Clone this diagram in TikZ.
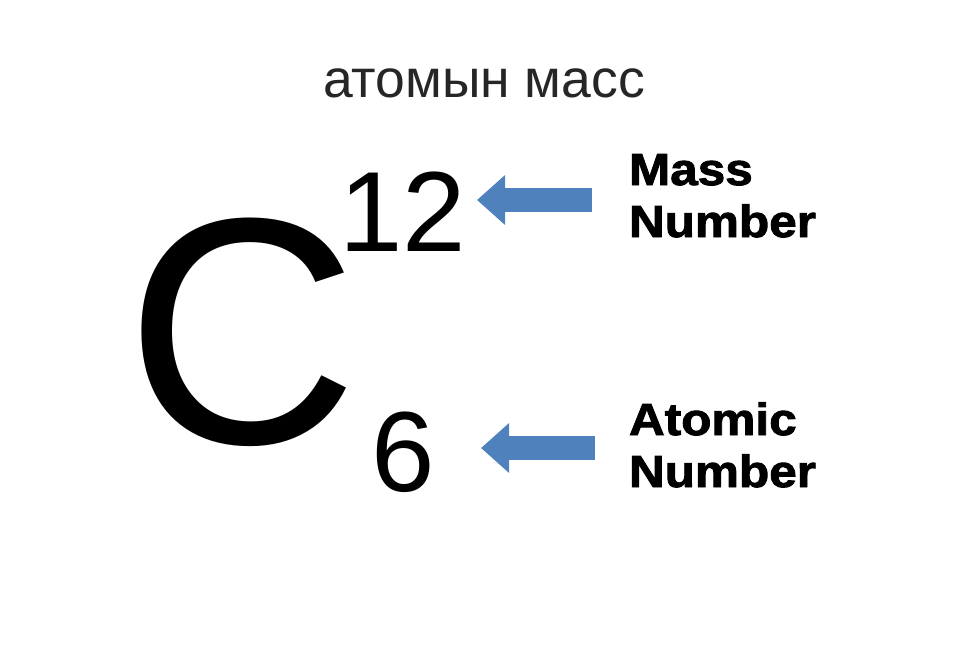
\documentclass[tikz,border=0pt]{standalone}
\usepackage{fontspec}
\usepackage{xcolor}
\usepackage{tikz}
\usetikzlibrary{arrows.meta,positioning}
\setmainfont{Liberation Sans}
\newfontfamily\labelfont[FakeStretch=1.1,FakeBold=2]{Liberation Sans Bold}
\definecolor{arrowblue}{RGB}{79,129,189}
\definecolor{titlegray}{RGB}{38,38,38}

\begin{document}
\begin{tikzpicture}[
  x=1pt, y=-1pt,
  every node/.style={inner sep=0pt, outer sep=0pt},
  symbolnum/.style={anchor=base, font=\fontsize{114}{114}\selectfont},
  numlabel/.style={anchor=base west, align=left,
                   font=\labelfont\fontsize{45}{52}\selectfont},
  blockarrow/.style={arrowblue, line width=24pt,
                     -{Triangle[length=28pt, width=48pt]}},
]
\fill[white] (0,0) rectangle (970,646);
\useasboundingbox (0,0) rectangle (970,646);

%% ── Title ─────────────────────────────────────────────────────────────────
\node[anchor=base, text=titlegray, font=\fontsize{53.5}{53.5}\selectfont]
  (title) at (484,97) {атомын масс};

%% ── Element symbol ────────────────────────────────────────────────────────
\node[anchor=base, font=\fontsize{323}{323}\selectfont] (carbon) at (242.5,443) {C};
\node[symbolnum] (massnum) at (403,251) {12};
\node[symbolnum] (atomnum) at (403.5,491) {6};

%% ── Labels ────────────────────────────────────────────────────────────────
\node[numlabel] (masslabel) at (629,237) {Mass\\Number};
\node[numlabel] (atomlabel) at (629,487) {Atomic\\Number};

%% ── Arrows ────────────────────────────────────────────────────────────────
\coordinate (massTail) at (592,200);
\coordinate (massTip) at (477,200);
\coordinate (atomTail) at (595,448);
\coordinate (atomTip) at (481,448);
\draw[blockarrow] (massTail) -- (massTip);
\draw[blockarrow] (atomTail) -- (atomTip);

\end{tikzpicture}
\end{document}
